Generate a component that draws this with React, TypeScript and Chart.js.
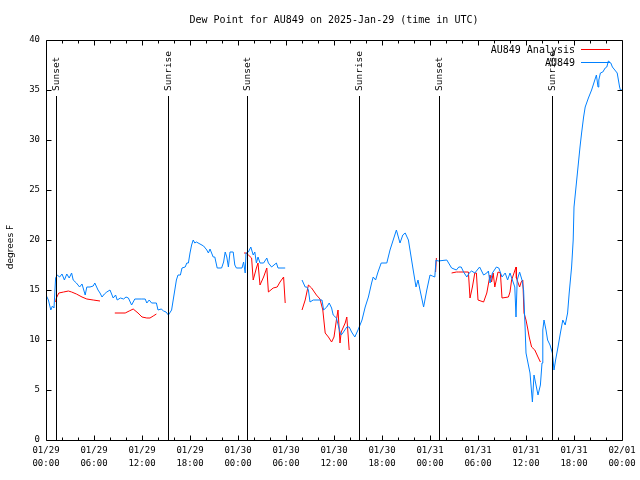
import React, { useEffect, useRef } from "react";
import { Chart, registerables } from "chart.js";

Chart.register(...registerables);

const TITLE = "Dew Point for AU849 on 2025-Jan-29 (time in UTC)";
const Y_TITLE = "degrees F";
const xTickDates = ["01/29", "01/29", "01/29", "01/29", "01/30", "01/30", "01/30", "01/30", "01/31", "01/31", "01/31", "01/31", "02/01"];
const xTickTimes = ["00:00", "06:00", "12:00", "18:00", "00:00", "06:00", "12:00", "18:00", "00:00", "06:00", "12:00", "18:00", "00:00"];

// hours since 01/29 00:00 UTC
const eventHours = [1.2, 15.29, 25.16, 39.16, 49.16, 63.21];
const eventLabels = ["Sunset", "Sunrise", "Sunset", "Sunrise", "Sunset", "Sunrise"];

const seriesNames = ["AU849 Analysis", "AU849"];

const analysisHours = [
  1.2, 1.3, 1.6, 2.2, 2.8, 3.2, 3.8, 4.5, 5.1, 5.9, 6.75, 7.5,
  8.6, 9.9, 10.4, 10.9, 11.5, 12.0, 12.6, 13.0, 13.4, 13.8, 19,
  24.75, 25.0, 25.3, 25.7, 25.9, 26.3, 26.5, 26.75, 27.2, 27.6, 27.8, 28.4, 28.9, 29.25, 29.7, 29.9, 31,
  32.0, 32.4, 32.8, 33.2, 33.8, 34.25, 34.6, 34.9, 35.3, 35.7, 36.0, 36.3, 36.5, 36.75, 36.9, 37.4, 37.6, 37.9, 43,
  48.7, 48.8, 49.5,
  50.7, 51.3, 51.6, 52.8, 53.0, 53.3, 53.6, 53.8, 54.0, 54.7, 55.1, 55.5, 55.7, 55.9, 56.1, 56.5, 56.8, 57.0,
  57.8, 58.0, 58.2, 58.5, 58.75, 58.8, 59.2, 59.4, 59.6, 59.75, 60.0, 60.2, 60.4, 60.7, 61.1, 61.5, 61.8
];
const analysisValues = [
  13.8, 14.2, 14.7, 14.8, 14.9, 14.8, 14.6, 14.3, 14.1, 14.0, 13.9, null,
  12.7, 12.7, 12.9, 13.1, 12.7, 12.3, 12.2, 12.2, 12.4, 12.6, null,
  18.7, 18.7, 18.5, 18.2, 16.0, 17.2, 17.7, 15.5, 16.3, 17.2, 14.8, 15.2, 15.3, 15.8, 16.3, 13.7, null,
  13.0, 14.0, 15.5, 15.2, 14.5, 14.1, 13.0, 10.7, 10.3, 9.8, 10.3, 12.0, 13.0, 9.7, 10.8, 11.7, 12.3, 9.0, null,
  16.8, 18.2, null,
  16.7, 16.8, 16.8, 16.8, 14.2, 15.3, 16.7, 16.7, 14.0, 13.8, 14.7, 16.5, 15.8, 16.7, 15.3, 16.8, 16.7, 14.2,
  14.3, 14.8, 16.0, 16.7, 17.3, 16.2, 15.3, 15.8, 16.0, 12.7, 12.0, 11.2, 10.3, 9.3, 9.0, 8.3, 7.8
];

const stationHours = [
  0.0, 0.3, 0.6, 0.8, 1.0, 1.2, 1.4, 1.7, 2.0, 2.3, 2.6, 2.9, 3.2, 3.4, 3.8, 4.2, 4.5, 4.9, 5.1, 5.5, 5.9,
  6.1, 6.5, 6.75, 7.0, 7.3, 7.6, 8.0, 8.4, 8.7, 8.9, 9.3, 9.7, 10.0, 10.3, 10.7, 11.1, 11.5, 11.9, 12.4,
  12.6, 12.9, 13.2, 13.8, 14.0, 14.4, 14.7, 15.0, 15.3, 15.7, 15.9, 16.1, 16.3, 16.5, 16.8, 17.0, 17.4,
  17.6, 17.8, 18.0, 18.2, 18.4, 18.6, 18.8, 19.25, 19.7, 20.1, 20.3, 20.5, 20.7, 20.9, 21.1, 21.4, 21.95,
  22.2, 22.4, 22.6, 22.8, 23.0, 23.4, 23.6, 23.8, 24.5, 24.7, 24.9, 25.0, 25.3, 25.6, 25.9, 26.1, 26.3,
  26.5, 26.75, 27.2, 27.6, 27.8, 28.2, 28.8, 29.0, 29.9, 31,
  32.0, 32.4, 32.6, 32.8, 33.0, 33.4, 34.5, 34.7, 35.1, 35.4, 35.7, 35.9, 36.3, 36.75, 36.9, 37.1, 37.6,
  37.9, 38.2, 38.6, 39.0, 39.5, 39.9, 40.3, 40.7, 40.9, 41.2, 41.5, 41.9, 42.6, 43.0, 43.4, 43.8, 44.25,
  44.6, 44.9, 45.3, 45.5, 45.9, 46.25, 46.5, 46.75, 47.2, 47.6, 48.0, 48.3, 48.6, 48.75, 49.0, 50.1, 50.7,
  51.3, 51.6, 51.9, 52.2, 52.6, 52.9, 53.2, 53.6, 54.2, 54.7, 55.1, 55.3, 55.5, 55.8, 56.3, 56.6, 57.0,
  57.4, 57.7, 58.0, 58.3, 58.6, 58.75, 58.9, 59.2, 59.5, 59.7, 59.9, 60.0, 60.3, 60.5, 60.8, 61.0, 61.3,
  61.5, 61.8, 62.0, 62.1, 62.25, 62.5, 62.7, 63.0, 63.3, 63.5, 63.7, 64.0, 64.3, 64.6, 64.9, 65.2, 65.4,
  65.7, 65.9, 66.0, 66.25, 66.5, 66.75, 66.95, 67.2, 67.4, 67.8, 68.2, 68.6, 68.8, 69.0, 69.1, 69.3, 69.6,
  69.9, 70.1, 70.3, 70.6, 70.8, 71.1, 71.4, 71.7, 71.8, 72.0
];
const stationValues = [
  14.5, 14.0, 13.0, 13.4, 13.2, 16.2, 16.5, 16.3, 16.6, 16.0, 16.6, 16.2, 16.7, 16.0, 15.7, 15.3, 15.6, 14.5, 15.3, 15.3, 15.4,
  15.7, 15.0, 14.7, 14.3, 14.6, 14.8, 15.0, 14.2, 14.5, 14.0, 14.2, 14.1, 14.3, 14.2, 13.5, 14.1, 14.1, 14.1, 14.1,
  13.7, 14.0, 13.7, 13.7, 13.0, 13.1, 12.9, 12.8, 12.5, 13.0, 14.0, 15.0, 16.0, 16.5, 16.5, 17.2, 17.3,
  17.7, 17.7, 18.7, 19.5, 20.0, 19.7, 19.8, 19.6, 19.4, 19.0, 18.7, 19.1, 18.7, 18.3, 18.3, 17.2, 17.2,
  17.8, 18.8, 18.3, 17.3, 18.8, 18.8, 17.5, 17.2, 17.2, 17.8, 16.7, 18.7, 18.8, 19.3, 18.5, 18.8, 17.7,
  18.3, 17.7, 17.7, 18.2, 17.7, 17.3, 17.7, 17.2, 17.2, null,
  16.0, 15.3, 15.3, 15.0, 13.8, 14.0, 14.0, 13.0, 13.3, 13.7, 13.2, 12.5, 12.2, 10.8, 10.5, 10.7, 11.3,
  11.3, 10.8, 10.3, 11.0, 12.0, 13.3, 14.3, 15.7, 16.3, 16.0, 16.8, 17.7, 17.7, 19.0, 20.0, 21.0, 19.7,
  20.5, 20.7, 20.0, 19.0, 17.0, 15.3, 16.0, 15.0, 13.3, 15.0, 16.5, 16.4, 16.3, 18.0, 17.9, 18.0, 17.2,
  17.0, 17.3, 17.3, 16.8, 16.3, 16.7, 16.9, 16.7, 17.3, 16.5, 16.7, 16.9, 15.7, 16.7, 17.3, 17.2, 16.3,
  16.7, 16.0, 16.7, 16.0, 15.3, 12.3, 16.0, 16.8, 16.0, 15.0, 11.0, 8.7, 7.5, 6.7, 3.8, 6.5, 5.3,
  4.5, 5.5, 7.7, 11.0, 12.0, 11.0, 10.0, 9.5, 8.7, 7.0, 8.0, 9.3, 10.7, 12.0, 11.5, 12.7, 14.7,
  17.3, 20.0, 23.3, 25.3, 27.3, 29.3, 30.7, 32.3, 33.3, 34.2, 35.0, 36.0, 36.5, 35.3, 36.0, 36.7, 36.8,
  37.2, 37.3, 37.9, 37.7, 37.3, 37.0, 36.7, 35.3, 35.0, 35.0
];

const RED = "#ff0000";
const BLUE = "#0080ff";
const MONO = "'DejaVu Sans Mono', monospace";

function toPoints(hours: number[], values: (number | null)[]) {
  return hours.map((h, i) => ({ x: h, y: values[i] }));
}

const decorPlugin = {
  id: "decor",
  afterDraw(chart: any) {
    const ctx = chart.ctx;
    const a = chart.chartArea;
    const xs = chart.scales.x;
    const ys = chart.scales.y;
    ctx.save();
    ctx.strokeStyle = "#000";
    ctx.lineWidth = 1;
    const L = Math.round(a.left) + 0.5;
    const R = Math.round(a.right) + 0.5;
    const T = Math.round(a.top) + 0.5;
    const B = Math.round(a.bottom) + 0.5;
    ctx.beginPath();
    ctx.rect(L, T, R - L, B - T);
    ctx.stroke();
    // x ticks (inward)
    ctx.beginPath();
    for (let h = 0; h <= 72; h += 2) {
      const px = Math.round(xs.getPixelForValue(h)) + 0.5;
      const len = h % 6 === 0 ? 5 : 3;
      ctx.moveTo(px, B);
      ctx.lineTo(px, B - len);
      ctx.moveTo(px, T);
      ctx.lineTo(px, T + len);
    }
    for (let v = 5; v < 40; v += 5) {
      const py = Math.round(ys.getPixelForValue(v)) + 0.5;
      ctx.moveTo(L, py);
      ctx.lineTo(L + 5, py);
      ctx.moveTo(R, py);
      ctx.lineTo(R - 5, py);
    }
    ctx.stroke();
    // events
    ctx.fillStyle = "#000";
    ctx.font = "9.5px " + MONO;
    eventHours.forEach((h, i) => {
      const px = Math.round(xs.getPixelForValue(h)) + 0.5;
      ctx.beginPath();
      ctx.moveTo(px, 96);
      ctx.lineTo(px, B);
      ctx.stroke();
      ctx.save();
      ctx.translate(px, 91);
      ctx.rotate(-Math.PI / 2);
      ctx.textAlign = "left";
      ctx.textBaseline = "middle";
      ctx.fillText(eventLabels[i], 0, 0);
      ctx.restore();
    });
    // legend
    ctx.font = "10px " + MONO;
    ctx.textAlign = "right";
    ctx.textBaseline = "middle";
    const colors = [RED, BLUE];
    const rows = [49.5, 62.5];
    seriesNames.forEach((n, i) => {
      ctx.fillStyle = "#000";
      ctx.fillText(n, 575, rows[i] + 0.5);
      ctx.strokeStyle = colors[i];
      ctx.beginPath();
      ctx.moveTo(581, rows[i]);
      ctx.lineTo(610, rows[i]);
      ctx.stroke();
    });
    // title
    ctx.fillStyle = "#000";
    ctx.textAlign = "center";
    ctx.font = "10px " + MONO;
    ctx.fillText(TITLE, (a.left + a.right) / 2, 20);
    // y title
    ctx.save();
    ctx.translate(11, 247);
    ctx.rotate(-Math.PI / 2);
    ctx.font = "9px 'DejaVu Sans', sans-serif";
    ctx.textAlign = "center";
    ctx.textBaseline = "middle";
    ctx.fillText(Y_TITLE, 0, 0);
    ctx.restore();
    ctx.restore();
  },
};

export default function App() {
  const ref = useRef<HTMLCanvasElement | null>(null);
  useEffect(() => {
    if (!ref.current) return;
    const chart = new Chart(ref.current, {
      type: "line",
      data: {
        datasets: [
          {
            label: seriesNames[0],
            data: toPoints(analysisHours, analysisValues) as any,
            borderColor: RED,
            backgroundColor: RED,
            borderWidth: 1,
            pointRadius: 0,
            tension: 0,
            spanGaps: false,
            order: 1,
          },
          {
            label: seriesNames[1],
            data: toPoints(stationHours, stationValues) as any,
            borderColor: BLUE,
            backgroundColor: BLUE,
            borderWidth: 1,
            pointRadius: 0,
            tension: 0,
            spanGaps: false,
            order: 0,
          },
        ],
      },
      options: {
        animation: false,
        responsive: false,
        events: [],
        layout: { padding: { top: 40, right: 18, left: 0, bottom: 0 } },
        plugins: { legend: { display: false }, tooltip: { enabled: false }, title: { display: false } },
        scales: {
          x: {
            type: "linear",
            min: 0,
            max: 72,
            grid: { display: false, drawTicks: false, tickLength: 0 },
            border: { display: false },
            ticks: {
              stepSize: 6,
              autoSkip: false,
              maxRotation: 0,
              padding: 4,
              color: "#000",
              font: { family: MONO, size: 9, lineHeight: 1.45 },
              callback: (v: any) => {
                const i = Math.round(Number(v) / 6);
                return [xTickDates[i], xTickTimes[i]];
              },
            },
            afterFit: (s: any) => {
              s.height = 40;
            },
          },
          y: {
            min: 0,
            max: 40,
            grid: { display: false, drawTicks: false, tickLength: 0 },
            border: { display: false },
            ticks: {
              stepSize: 5,
              padding: 6,
              color: "#000",
              font: { family: MONO, size: 9 },
            },
            afterFit: (s: any) => {
              s.width = 46;
            },
          },
        },
      },
      plugins: [decorPlugin],
    });
    return () => chart.destroy();
  }, []);
  return (
    <div style={{ position: "fixed", left: 0, top: 0, width: 640, height: 480, background: "#fff" }}>
      <canvas ref={ref} width={640} height={480} style={{ display: "block" }} />
    </div>
  );
}
